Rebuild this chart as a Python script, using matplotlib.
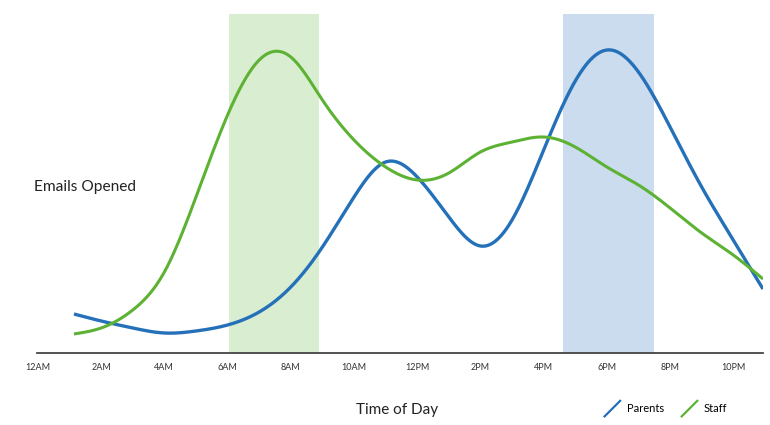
import matplotlib.pyplot as plt
import numpy as np
from matplotlib.legend_handler import HandlerLine2D
from matplotlib.lines import Line2D

plt.rcParams['font.family'] = ['Lato', 'DejaVu Sans']

# emails opened by hour of day (arbitrary units)
hours = [1.14, 2, 3, 4, 5, 6, 7, 8, 9, 10, 11, 12, 13, 14, 15, 16, 17, 18, 19, 20, 21, 22, 22.94]
parents = [39, 32, 25, 20, 22, 28, 41, 66, 106, 156, 191, 176, 136, 107, 133, 203, 272, 303, 281, 226, 166, 113, 64]
staff = [19, 25, 43, 81, 156, 238, 293, 296, 253, 213, 186, 173, 180, 201, 211, 216, 206, 186, 168, 145, 120, 98, 74]

tick_hours = [0, 2, 4, 6, 8, 10, 12, 14, 16, 18, 20, 22]
tick_labels = ["12AM", "2AM", "4AM", "6AM", "8AM", "10AM",
               "12PM", "2PM", "4PM", "6PM", "8PM", "10PM"]

staff_peak = (6.05, 8.9)
parent_peak = (16.6, 19.5)

blue = "#2470b9"
green = "#5db234"


def smooth(x, y, num=600):
    # natural cubic spline through the points, only for drawing
    x = np.asarray(x, float)
    y = np.asarray(y, float)
    n = len(x)
    h = np.diff(x)
    A = np.zeros((n, n))
    r = np.zeros(n)
    A[0, 0] = A[-1, -1] = 1
    for i in range(1, n - 1):
        A[i, i - 1] = h[i - 1]
        A[i, i] = 2 * (h[i - 1] + h[i])
        A[i, i + 1] = h[i]
        r[i] = 6 * ((y[i + 1] - y[i]) / h[i] - (y[i] - y[i - 1]) / h[i - 1])
    M = np.linalg.solve(A, r)
    xs = np.linspace(x[0], x[-1], num)
    k = np.clip(np.searchsorted(x, xs, side='right') - 1, 0, n - 2)
    hk = h[k]
    a = x[k + 1] - xs
    b = xs - x[k]
    ys = (M[k] * a**3 + M[k + 1] * b**3) / (6 * hk) \
        + (y[k] / hk - M[k] * hk / 6) * a + (y[k + 1] / hk - M[k + 1] * hk / 6) * b
    return xs, ys


class SlashHandler(HandlerLine2D):
    def create_artists(self, legend, orig_handle, xdescent, ydescent,
                       width, height, fontsize, trans):
        line = Line2D([0, width], [-0.5 * height, 1.5 * height],
                      color=orig_handle.get_color(), lw=1.6)
        line.set_transform(trans)
        return [line]


fig = plt.figure(figsize=(7.7, 4.25), dpi=100)
ax = fig.add_axes([37 / 770, 1 - 353 / 425, (763 - 37) / 770, (353 - 14) / 425])

ax.axvspan(*staff_peak, color="#d9edd0", lw=0)
ax.axvspan(*parent_peak, color="#cadcee", lw=0)

px, py = smooth(hours, parents)
sx, sy = smooth(hours, staff)
l1, = ax.plot(px, py, color=blue, lw=2.4, solid_capstyle='butt')
l2, = ax.plot(sx, sy, color=green, lw=2.2, solid_capstyle='butt')

ax.set_xlim(-0.03, 22.94)
ax.set_ylim(0, 339)
for s in ["top", "left", "right"]:
    ax.spines[s].set_visible(False)
ax.spines["bottom"].set_color("#444444")
ax.spines["bottom"].set_linewidth(1.3)
ax.set_xticks(tick_hours, tick_labels)
ax.set_yticks([])
ax.tick_params(axis='x', length=0, pad=7, labelsize=6.5, colors="#333333")

fig.text(34 / 770, 1 - 187 / 425, "Emails Opened", ha='left', va='center',
         fontsize=11.2, color="#222222")
fig.text(397 / 770, 1 - 410 / 425, "Time of Day", ha='center', va='center',
         fontsize=11, color="#222222")

fig.legend([l1, l2], ["Parents", "Staff"], loc='center',
           bbox_to_anchor=(666 / 770, 1 - 409 / 425), ncol=2, frameon=False,
           fontsize=8, handlelength=1.4, handletextpad=0.6, columnspacing=1.6,
           handler_map={l1: SlashHandler(), l2: SlashHandler()})

fig.savefig("out.png", dpi=100)
